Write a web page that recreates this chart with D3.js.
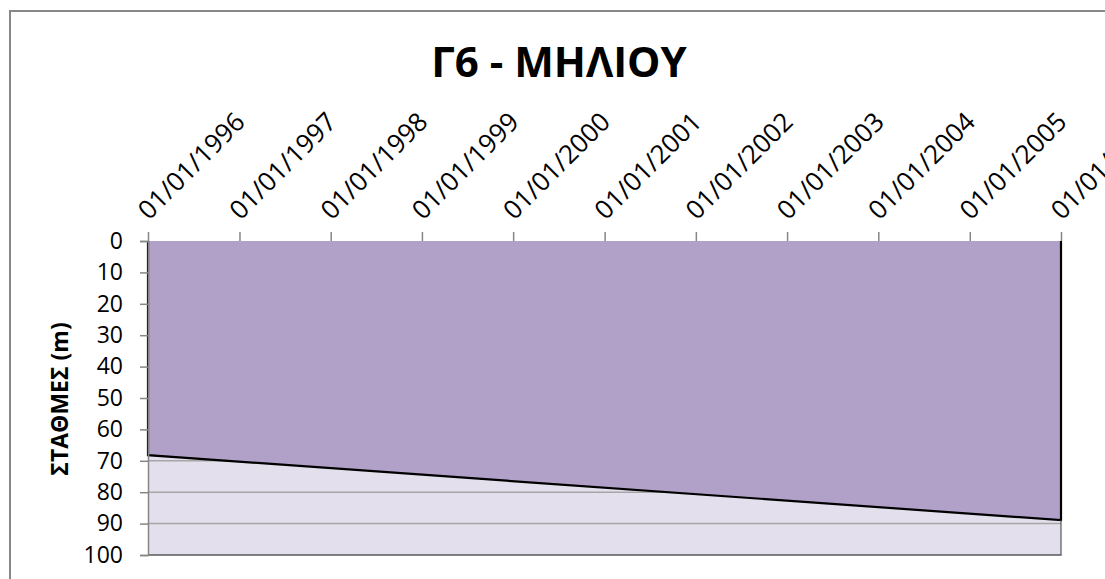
<!DOCTYPE html>
<html>
<head>
<meta charset="utf-8">
<script src="https://cdn.jsdelivr.net/npm/d3@7"></script>
<style>
  html, body { margin: 0; padding: 0; background: #ffffff; }
  svg { display: block; }
  text { font-family: "Open Sans", sans-serif; fill: #000; }
</style>
</head>
<body>
<svg id="chart" width="1105" height="579"></svg>
<script>
// Well Γ6 - ΜΗΛΙΟΥ: groundwater level depth (m below surface)
const chartTitle = "Γ6 - ΜΗΛΙΟΥ";
const yAxisTitle = "ΣΤΑΘΜΕΣ (m)";
const measureDates = ["1996-01-01", "2006-01-01"];
const levelDepths = [68.2, 88.9];
const yTickValues = [0, 10, 20, 30, 40, 50, 60, 70, 80, 90, 100];

const parseDate = d3.timeParse("%Y-%m-%d");
const fmtDate = d3.timeFormat("%d/%m/%Y");
const data = measureDates.map((d, i) => ({ date: parseDate(d), depth: levelDepths[i] }));

const svg = d3.select("#chart");
const plot = { left: 148, right: 1061, top: 241, bottom: 555 };

// Outer chart frame
svg.append("rect")
  .attr("x", 10).attr("y", 11)
  .attr("width", 1200).attr("height", 700)
  .attr("fill", "#fff")
  .attr("stroke", "#888888").attr("stroke-width", 2);

const x = d3.scaleTime()
  .domain([parseDate("1996-01-01"), parseDate("2006-01-01")])
  .range([plot.left, plot.right]);
const y = d3.scaleLinear().domain([0, 100]).range([plot.top, plot.bottom]);

// Plot background
svg.append("rect")
  .attr("x", plot.left).attr("y", plot.top)
  .attr("width", plot.right - plot.left).attr("height", plot.bottom - plot.top)
  .attr("fill", "#E4DFEC");

// Horizontal gridlines
svg.append("g").selectAll("line")
  .data(yTickValues.filter(v => v > 0 && v < 100))
  .join("line")
  .attr("x1", plot.left).attr("x2", plot.right)
  .attr("y1", d => y(d)).attr("y2", d => y(d))
  .attr("stroke", "#A6A6A6").attr("stroke-width", 1.5);

// Filled area from surface down to the water level
const area = d3.area()
  .x(d => x(d.date))
  .y0(y(0))
  .y1(d => y(d.depth));
svg.append("path")
  .datum(data)
  .attr("d", area)
  .attr("fill", "#B1A0C7");

// Outline: left edge, level line, right edge
const first = data[0], last = data[data.length - 1];
const outline = d3.path();
outline.moveTo(x(first.date), y(0));
outline.lineTo(x(first.date), y(first.depth));
data.slice(1).forEach(d => outline.lineTo(x(d.date), y(d.depth)));
outline.lineTo(x(last.date), y(0));
svg.append("path")
  .attr("d", outline.toString())
  .attr("fill", "none")
  .attr("stroke", "#000").attr("stroke-width", 2.2)
  .attr("stroke-linejoin", "miter");

// Plot border (right and bottom)
svg.append("line")
  .attr("x1", plot.right).attr("x2", plot.right)
  .attr("y1", y(last.depth)).attr("y2", plot.bottom)
  .attr("stroke", "#595959").attr("stroke-width", 1.2);
svg.append("line")
  .attr("x1", plot.left).attr("x2", plot.right + 0.6)
  .attr("y1", plot.bottom).attr("y2", plot.bottom)
  .attr("stroke", "#595959").attr("stroke-width", 1.5);

// Y axis (left)
const yAxis = d3.axisLeft(y).tickValues(yTickValues).tickSize(8).tickPadding(17)
  .tickFormat(d3.format("d"));
const gy = svg.append("g")
  .attr("transform", `translate(${plot.left},0)`)
  .call(yAxis);
gy.select(".domain").attr("stroke", "#868686").attr("stroke-width", 1.5);
gy.selectAll(".tick line").attr("stroke", "#868686").attr("stroke-width", 1.5);
gy.selectAll(".tick text")
  .style("font-family", "'Open Sans', sans-serif")
  .style("font-size", "23px")
  .attr("fill", "#000");

// X axis (top) with yearly ticks
const xAxis = d3.axisTop(x).ticks(d3.timeYear.every(1)).tickSize(9).tickFormat("");
const gx = svg.append("g")
  .attr("transform", `translate(0,${plot.top})`)
  .call(xAxis);
gx.select(".domain").remove();
gx.selectAll(".tick line").attr("stroke", "#868686").attr("stroke-width", 1.5);

// Rotated date labels
svg.append("g").selectAll("text")
  .data(x.ticks(d3.timeYear.every(1)))
  .join("text")
  .attr("transform", d => `translate(${x(d) + 1},${plot.top - 20}) rotate(-45)`)
  .attr("text-anchor", "start")
  .style("font-size", "26px")
  .text(d => fmtDate(d));

// Title
svg.append("text")
  .attr("x", 559).attr("y", 77)
  .attr("text-anchor", "middle")
  .style("font-size", "42px")
  .style("font-weight", "700")
  .text(chartTitle);

// Y axis title
svg.append("text")
  .attr("transform", `translate(68,399) rotate(-90)`)
  .attr("text-anchor", "middle")
  .style("font-size", "23px")
  .style("font-weight", "700")
  .text(yAxisTitle);
</script>
</body>
</html>
